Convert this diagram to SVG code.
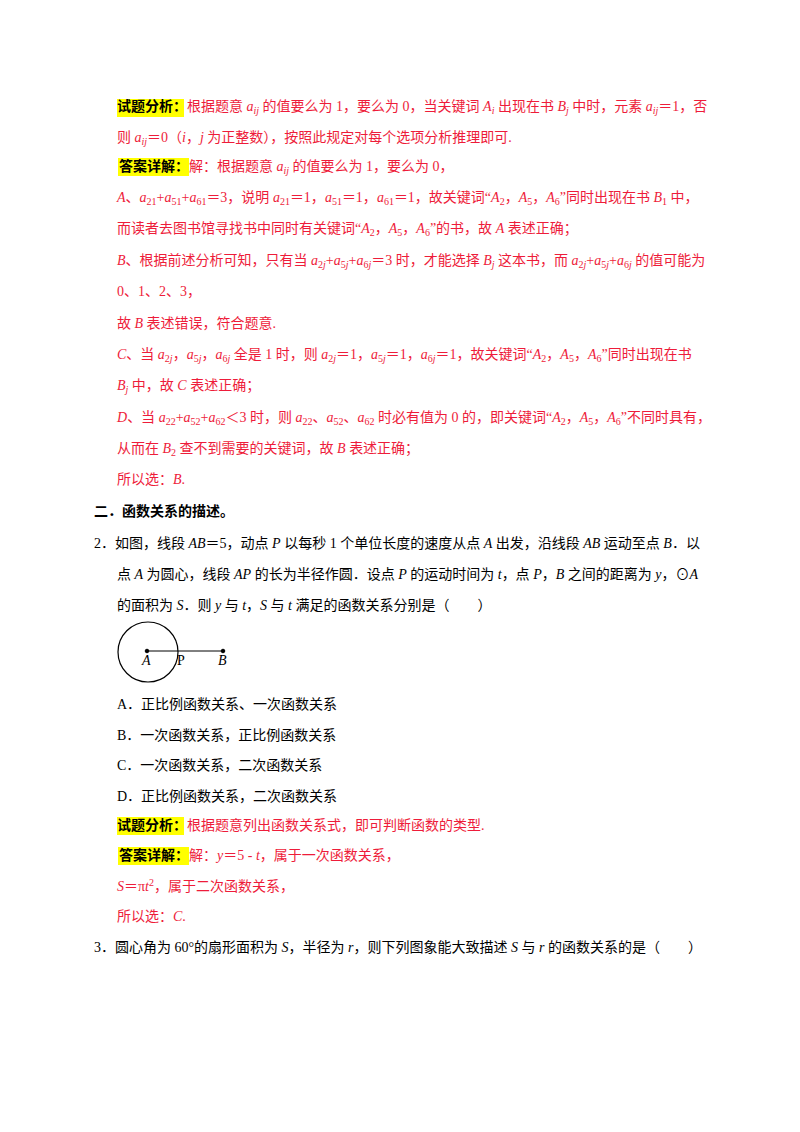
<svg xmlns="http://www.w3.org/2000/svg" width="800" height="1132" viewBox="0 0 800 1132">
<style>
text{font-family:"Liberation Serif","Noto Sans CJK SC",serif;font-size:14px;fill:#000}
.r{fill:#ee1c3a}
.i{font-style:italic}
.s{font-size:10px;baseline-shift:-3px}
.p{font-size:10px;baseline-shift:super}
.b{font-family:"Noto Sans CJK SC",sans-serif;font-weight:bold;font-size:14px}
.hl{fill:#ffff00}
</style>
<rect width="800" height="1132" fill="#fff"/>
<rect class="hl" x="117" y="99" width="67" height="18"/>
<rect class="hl" x="118" y="158" width="71" height="18"/>
<rect class="hl" x="117" y="817" width="67" height="18"/>
<rect class="hl" x="118" y="847" width="71" height="18"/>
<text x="117" y="111"><tspan class="b">试题分析：</tspan><tspan class="r">根据题意 <tspan class="i">a</tspan><tspan class="i s">ij</tspan> 的值要么为 1，要么为 0，当关键词 <tspan class="i">A</tspan><tspan class="i s">i</tspan> 出现在书 <tspan class="i">B</tspan><tspan class="i s">j</tspan> 中时，元素 <tspan class="i">a</tspan><tspan class="i s">ij</tspan>＝1，否</tspan></text>
<text x="117" y="142" class="r">则 <tspan class="i">a</tspan><tspan class="i s">ij</tspan>＝0（<tspan class="i">i</tspan>，<tspan class="i">j</tspan> 为正整数），按照此规定对每个选项分析推理即可.</text>
<text x="119" y="171"><tspan class="b"> 答案详解：</tspan><tspan class="r">解：根据题意 <tspan class="i">a</tspan><tspan class="i s">ij</tspan> 的值要么为 1，要么为 0，</tspan></text>
<text x="117" y="202" class="r"><tspan class="i">A</tspan>、<tspan class="i">a</tspan><tspan class="s">21</tspan>+<tspan class="i">a</tspan><tspan class="s">51</tspan>+<tspan class="i">a</tspan><tspan class="s">61</tspan>＝3，说明 <tspan class="i">a</tspan><tspan class="s">21</tspan>＝1，<tspan class="i">a</tspan><tspan class="s">51</tspan>＝1，<tspan class="i">a</tspan><tspan class="s">61</tspan>＝1，故关键词“<tspan class="i">A</tspan><tspan class="s">2</tspan>，<tspan class="i">A</tspan><tspan class="s">5</tspan>，<tspan class="i">A</tspan><tspan class="s">6</tspan>”同时出现在书 <tspan class="i">B</tspan><tspan class="s">1</tspan> 中，</text>
<text x="117" y="233" class="r">而读者去图书馆寻找书中同时有关键词“<tspan class="i">A</tspan><tspan class="s">2</tspan>，<tspan class="i">A</tspan><tspan class="s">5</tspan>，<tspan class="i">A</tspan><tspan class="s">6</tspan>”的书，故 <tspan class="i">A</tspan> 表述正确；</text>
<text x="117" y="265" class="r"><tspan class="i">B</tspan>、根据前述分析可知，只有当 <tspan class="i">a</tspan><tspan class="s">2<tspan class="i">j</tspan></tspan>+<tspan class="i">a</tspan><tspan class="s">5<tspan class="i">j</tspan></tspan>+<tspan class="i">a</tspan><tspan class="s">6<tspan class="i">j</tspan></tspan>＝3 时，才能选择 <tspan class="i">B</tspan><tspan class="i s">j</tspan> 这本书，而 <tspan class="i">a</tspan><tspan class="s">2<tspan class="i">j</tspan></tspan>+<tspan class="i">a</tspan><tspan class="s">5<tspan class="i">j</tspan></tspan>+<tspan class="i">a</tspan><tspan class="s">6<tspan class="i">j</tspan></tspan> 的值可能为</text>
<text x="117" y="296" class="r">0、1、2、3，</text>
<text x="117" y="328" class="r">故 <tspan class="i">B</tspan> 表述错误，符合题意.</text>
<text x="117" y="359" class="r"><tspan class="i">C</tspan>、当 <tspan class="i">a</tspan><tspan class="s">2<tspan class="i">j</tspan></tspan>，<tspan class="i">a</tspan><tspan class="s">5<tspan class="i">j</tspan></tspan>，<tspan class="i">a</tspan><tspan class="s">6<tspan class="i">j</tspan></tspan> 全是 1 时，则 <tspan class="i">a</tspan><tspan class="s">2<tspan class="i">j</tspan></tspan>＝1，<tspan class="i">a</tspan><tspan class="s">5<tspan class="i">j</tspan></tspan>＝1，<tspan class="i">a</tspan><tspan class="s">6<tspan class="i">j</tspan></tspan>＝1，故关键词“<tspan class="i">A</tspan><tspan class="s">2</tspan>，<tspan class="i">A</tspan><tspan class="s">5</tspan>，<tspan class="i">A</tspan><tspan class="s">6</tspan>”同时出现在书</text>
<text x="117" y="390" class="r"><tspan class="i">B</tspan><tspan class="i s">j</tspan> 中，故 <tspan class="i">C</tspan> 表述正确；</text>
<text x="117" y="422" class="r"><tspan class="i">D</tspan>、当 <tspan class="i">a</tspan><tspan class="s">22</tspan>+<tspan class="i">a</tspan><tspan class="s">52</tspan>+<tspan class="i">a</tspan><tspan class="s">62</tspan>＜3 时，则 <tspan class="i">a</tspan><tspan class="s">22</tspan>、<tspan class="i">a</tspan><tspan class="s">52</tspan>、<tspan class="i">a</tspan><tspan class="s">62</tspan> 时必有值为 0 的，即关键词“<tspan class="i">A</tspan><tspan class="s">2</tspan>，<tspan class="i">A</tspan><tspan class="s">5</tspan>，<tspan class="i">A</tspan><tspan class="s">6</tspan>”不同时具有，</text>
<text x="117" y="453" class="r">从而在 <tspan class="i">B</tspan><tspan class="s">2</tspan> 查不到需要的关键词，故 <tspan class="i">B</tspan> 表述正确；</text>
<text x="117" y="484" class="r">所以选：<tspan class="i">B</tspan>.</text>
<text x="94" y="516" class="b">二．函数关系的描述。</text>
<text x="94" y="548">2．如图，线段 <tspan class="i">AB</tspan>＝5，动点 <tspan class="i">P</tspan> 以每秒 1 个单位长度的速度从点 <tspan class="i">A</tspan> 出发，沿线段 <tspan class="i">AB</tspan> 运动至点 <tspan class="i">B</tspan>．以</text>
<text x="117" y="579">点 <tspan class="i">A</tspan> 为圆心，线段 <tspan class="i">AP</tspan> 的长为半径作圆．设点 <tspan class="i">P</tspan> 的运动时间为 <tspan class="i">t</tspan>，点 <tspan class="i">P</tspan>，<tspan class="i">B</tspan> 之间的距离为 <tspan class="i">y</tspan>，⊙<tspan class="i">A</tspan></text>
<text x="117" y="610">的面积为 <tspan class="i">S</tspan>．则 <tspan class="i">y</tspan> 与 <tspan class="i">t</tspan>，<tspan class="i">S</tspan> 与 <tspan class="i">t</tspan> 满足的函数关系分别是（　　）</text>
<g id="figure" stroke="#000" fill="none">
<circle cx="148" cy="652" r="30" stroke-width="1.2"/>
<line x1="147" y1="651" x2="223" y2="651" stroke-width="1"/>
<circle cx="147" cy="651" r="1.8" fill="#000"/>
<circle cx="223" cy="651" r="1.8" fill="#000"/>
</g>
<text x="142" y="665" class="i">A</text>
<text x="177" y="665">P</text>
<text x="218" y="665" class="i">B</text>
<text x="117" y="709">A．正比例函数关系、一次函数关系</text>
<text x="117" y="740">B．一次函数关系，正比例函数关系</text>
<text x="117" y="770">C．一次函数关系，二次函数关系</text>
<text x="117" y="801">D．正比例函数关系，二次函数关系</text>
<text x="117" y="830"><tspan class="b">试题分析：</tspan><tspan class="r">根据题意列出函数关系式，即可判断函数的类型.</tspan></text>
<text x="119" y="860"><tspan class="b"> 答案详解：</tspan><tspan class="r">解：<tspan class="i">y</tspan>＝5 - <tspan class="i">t</tspan>，属于一次函数关系，</tspan></text>
<text x="117" y="891" class="r"><tspan class="i">S</tspan>＝π<tspan class="i">t</tspan><tspan class="p">2</tspan>，属于二次函数关系，</text>
<text x="117" y="921" class="r">所以选：<tspan class="i">C</tspan>.</text>
<text x="94" y="952">3．圆心角为 60°的扇形面积为 <tspan class="i">S</tspan>，半径为 <tspan class="i">r</tspan>，则下列图象能大致描述 <tspan class="i">S</tspan> 与 <tspan class="i">r</tspan> 的函数关系的是（　　）</text>
</svg>
